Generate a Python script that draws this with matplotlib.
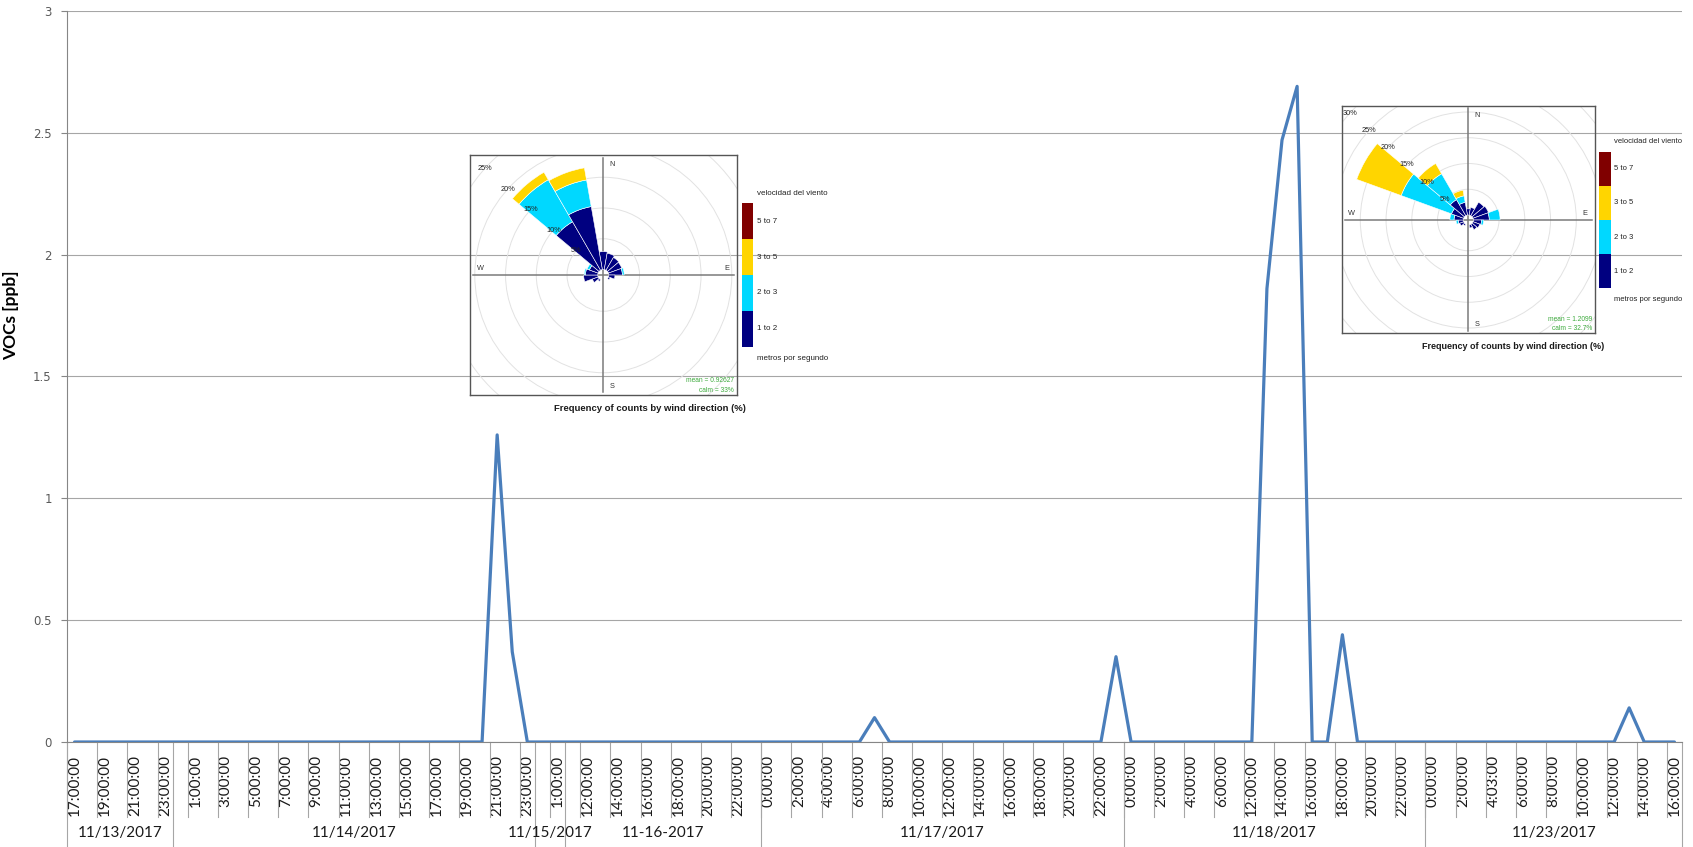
import numpy as np
import matplotlib
matplotlib.use("Agg")
import matplotlib.pyplot as plt
import matplotlib.transforms as mtransforms
from matplotlib.patches import Wedge, Circle, Rectangle
from matplotlib.ticker import FuncFormatter

# ---------------- hourly VOC series, grouped by day ----------------
day_labels = ["11/13/2017", "11/14/2017", "11/15/2017", "11-16-2017",
              "11/17/2017", "11/18/2017", "11/23/2017"]

hours_nov13 = ["17:00:00", "18:00:00", "19:00:00", "20:00:00", "21:00:00",
               "22:00:00", "23:00:00"]
hours_nov14 = ["0:00:00", "1:00:00", "2:00:00", "3:00:00", "4:00:00", "5:00:00",
               "6:00:00", "7:00:00", "8:00:00", "9:00:00", "10:00:00", "11:00:00",
               "12:00:00", "13:00:00", "14:00:00", "15:00:00", "16:00:00", "17:00:00",
               "18:00:00", "19:00:00", "20:00:00", "21:00:00", "22:00:00", "23:00:00"]
hours_nov15 = ["0:00:00", "1:00:00"]
hours_nov16 = ["11:00:00", "12:00:00", "13:00:00", "14:00:00", "15:00:00", "16:00:00",
               "17:00:00", "18:00:00", "19:00:00", "20:00:00", "21:00:00", "22:00:00",
               "23:00:00"]
hours_nov17 = ["0:00:00", "1:00:00", "2:00:00", "3:00:00", "4:00:00", "5:00:00",
               "6:00:00", "7:00:00", "8:00:00", "9:00:00", "10:00:00", "11:00:00",
               "12:00:00", "13:00:00", "14:00:00", "15:00:00", "16:00:00", "17:00:00",
               "18:00:00", "19:00:00", "20:00:00", "21:00:00", "22:00:00", "23:00:00"]
hours_nov18 = ["0:00:00", "1:00:00", "2:00:00", "3:00:00", "4:00:00", "5:00:00",
               "6:00:00", "7:00:00", "12:00:00", "13:00:00", "14:00:00", "15:00:00",
               "16:00:00", "17:00:00", "18:00:00", "19:00:00", "20:00:00", "21:00:00",
               "22:00:00", "23:00:00"]
hours_nov23 = ["0:00:00", "1:00:00", "2:00:00", "3:00:00", "4:03:00", "5:00:00",
               "6:00:00", "7:00:00", "8:00:00", "9:00:00", "10:00:00", "11:00:00",
               "12:00:00", "13:00:00", "14:00:00", "15:00:00", "16:00:00"]

vocs_nov13 = [0, 0, 0, 0, 0, 0, 0]
vocs_nov14 = [0, 0, 0, 0, 0, 0, 0, 0, 0, 0, 0, 0,
              0, 0, 0, 0, 0, 0, 0, 0, 0, 1.26, 0.37, 0]
vocs_nov15 = [0, 0]
vocs_nov16 = [0, 0, 0, 0, 0, 0, 0, 0, 0, 0, 0, 0, 0]
vocs_nov17 = [0, 0, 0, 0, 0, 0, 0, 0.10, 0, 0, 0, 0,
              0, 0, 0, 0, 0, 0, 0, 0, 0, 0, 0, 0.35]
vocs_nov18 = [0, 0, 0, 0, 0, 0, 0, 0, 0, 1.86, 2.47, 2.69,
              0, 0, 0.44, 0, 0, 0, 0, 0]
vocs_nov23 = [0, 0, 0, 0, 0, 0, 0, 0, 0, 0, 0, 0, 0, 0.14, 0, 0, 0]

# ---------------- wind roses ----------------
rose_dirs = [0, 20, 40, 60, 80, 100, 120, 140, 160, 180, 200, 220, 240, 260, 280, 300, 320, 340]
speed_classes = ["1 to 2", "2 to 3", "3 to 5", "5 to 7"]

rose1_1to2 = [2.9, 2.7, 2.4, 2.3, 2.2, 1.0, 0.3, 0, 0, 0, 0, 0.3, 1.0, 2.3, 2.0, 1.5, 9.1, 10.4]
rose1_2to3 = [0, 0, 0, 0, 0.3, 0, 0, 0, 0, 0, 0, 0, 0, 0, 0.2, 0.4, 7.9, 4.4]
rose1_3to5 = [0, 0, 0, 0, 0, 0, 0, 0, 0, 0, 0, 0, 0, 0, 0, 0, 1.4, 2.0]
rose1_5to7 = [0, 0, 0, 0, 0, 0, 0, 0, 0, 0, 0, 0, 0, 0, 0, 0, 0, 0]
rose1_mean = "0.92627"
rose1_calm = "33%"

rose2_1to2 = [1.2, 1.5, 3.0, 3.2, 3.1, 1.6, 1.4, 1.2, 0.6, 0, 0, 0.3, 0.8, 1.0, 1.8, 2.5, 3.6, 2.5]
rose2_2to3 = [0, 0, 0, 0, 2.1, 0.4, 0, 0, 0, 0, 0, 0, 0, 0.4, 0.8, 10.4, 5.8, 1.3]
rose2_3to5 = [0, 0, 0, 0, 0, 0, 0, 0, 0, 0, 0, 0, 0, 0, 0, 9.2, 2.3, 1.1]
rose2_5to7 = [0, 0, 0, 0, 0, 0, 0, 0, 0, 0, 0, 0, 0, 0, 0, 0, 0, 0]
rose2_mean = "1.2099"
rose2_calm = "32.7%"

# ---------------- styling ----------------
LINE_BLUE = "#4A7EBB"
GRID_GREY = "#A6A6A6"
AXIS_GREY = "#868686"
speed_colors = ["#000080", "#00D8FF", "#FFD500", "#800000"]
UI_FONT = ["Lato", "DejaVu Sans"]
ROSE_FONT = ["Liberation Sans", "DejaVu Sans"]

W, H, DPI = 1693, 847, 100
fig = plt.figure(figsize=(W / DPI, H / DPI), dpi=DPI)
fig.patch.set_facecolor("white")


def px_rect(x0, y0, x1, y1):
    """Figure-fraction rectangle from pixel corners (origin top-left)."""
    return [x0 / W, 1 - y1 / H, (x1 - x0) / W, (y1 - y0) / H]


# ---------------- main line chart ----------------
hours_by_day = [hours_nov13, hours_nov14, hours_nov15, hours_nov16,
                hours_nov17, hours_nov18, hours_nov23]
vocs_by_day = [vocs_nov13, vocs_nov14, vocs_nov15, vocs_nov16,
               vocs_nov17, vocs_nov18, vocs_nov23]
hour_labels = [h for day in hours_by_day for h in day]
vocs = [v for day in vocs_by_day for v in day]
n = len(vocs)
xpos = np.arange(n)

ax = fig.add_axes(px_rect(67, 10.8, 1682, 742))
ax.plot(xpos, vocs, color=LINE_BLUE, lw=2.3, solid_joinstyle="round",
        solid_capstyle="round", zorder=3)
ax.set_xlim(-0.5, n - 0.5)
ax.set_ylim(0, 3)

ax.set_yticks(np.arange(0, 3.01, 0.5))
ax.yaxis.set_major_formatter(FuncFormatter(lambda v, p: f"{v:g}"))
ax.grid(axis="y", color=GRID_GREY, lw=0.8)
ax.set_axisbelow(True)
for side in ("top", "right"):
    ax.spines[side].set_visible(False)
for side in ("left", "bottom"):
    ax.spines[side].set_color(AXIS_GREY)
    ax.spines[side].set_linewidth(0.8)
ax.tick_params(axis="y", length=4, width=0.8, color=AXIS_GREY, pad=7,
               labelsize=8.5, labelcolor="#595959")

shown = xpos[::2]
ax.set_xticks(shown)
ax.set_xticklabels([hour_labels[i] for i in shown], rotation=90,
                   fontsize=11, family=UI_FONT, color="#1a1a1a")
ax.tick_params(axis="x", length=0, pad=9.5)

ax.set_ylabel("VOCs [ppb]", fontsize=12.5, fontweight="bold", family=UI_FONT)
ax.yaxis.set_label_coords(-0.0297, 0.584)

# multi-level category axis: separators and day captions
trans = mtransforms.blended_transform_factory(ax.transData, ax.transAxes)
for i in shown:
    ax.plot([i - 0.5, i - 0.5], [0, -0.103], transform=trans, color=GRID_GREY,
            lw=0.8, clip_on=False)
edges = np.cumsum([0] + [len(d) for d in hours_by_day])
for e in edges:
    ax.plot([e - 0.5, e - 0.5], [0, -0.16], transform=trans, color=GRID_GREY,
            lw=0.8, clip_on=False)
for k, lab in enumerate(day_labels):
    mid = (edges[k] + edges[k + 1] - 1) / 2
    ax.text(mid, -0.124, lab, transform=trans, ha="center", va="center",
            fontsize=11, family=UI_FONT, color="#1a1a1a")

# ---------------- wind-rose insets ----------------
pix = fig.add_axes([0, 0, 1, 1], zorder=5)
pix.set_xlim(0, W)
pix.set_ylim(H, 0)
pix.axis("off")
pix.patch.set_visible(False)


def draw_rose(box, centre, px_per_pct, hole_px, ring_max, bands, mean_val, calm_val,
              legend_bar, title_x, size_scale):
    x0, y0, x1, y1 = box
    cx, cy = centre
    rax = fig.add_axes(px_rect(x0, y0, x1, y1), zorder=4)
    rax.set_xlim(-(cx - x0) / px_per_pct, (x1 - cx) / px_per_pct)
    rax.set_ylim(-(y1 - cy) / px_per_pct, (cy - y0) / px_per_pct)
    rax.patch.set_visible(False)
    rax.set_xticks([])
    rax.set_yticks([])
    for sp in rax.spines.values():
        sp.set_color("#555555")
        sp.set_linewidth(1.0)
    hole = hole_px / px_per_pct

    for pct in range(5, ring_max + 15, 5):
        rax.add_patch(Circle((0, 0), hole + pct, fill=False, ec="#E2E2E2",
                             lw=0.7, zorder=1))
    rax.axhline(0, xmin=0.012, xmax=0.988, color="#7A7A7A", lw=1.1, zorder=1.5)
    rax.axvline(0, ymin=0.012, ymax=0.988, color="#7A7A7A", lw=1.1, zorder=1.5)

    for k, d in enumerate(rose_dirs):
        inner = hole
        for band, col in zip(bands, speed_colors):
            v = band[k]
            if v <= 0:
                continue
            rax.add_patch(Wedge((0, 0), inner + v, 90 - d - 10, 90 - d + 10,
                                width=v, fc=col, ec="white", lw=0.4, zorder=2))
            inner += v

    ang = np.deg2rad(138)
    for pct in range(5, ring_max + 5, 5):
        r = hole + pct
        rax.text(r * np.cos(ang), r * np.sin(ang), f"{pct}%", fontsize=5.3,
                 ha="center", va="center", family=ROSE_FONT, color="#222222",
                 zorder=4)

    fs = 5.3
    pix.text(cx + 8.4, y0 + 10, "N", fontsize=fs, ha="center", va="center",
             family=ROSE_FONT, color="#333333")
    pix.text(cx + 8.4, y1 - 8.3, "S", fontsize=fs, ha="center", va="center",
             family=ROSE_FONT, color="#333333")
    pix.text(x0 + 10, cy - 6.7, "W", fontsize=fs, ha="center", va="center",
             family=ROSE_FONT, color="#333333")
    pix.text(x1 - 10.3, cy - 6.7, "E", fontsize=fs, ha="center", va="center",
             family=ROSE_FONT, color="#333333")
    pix.text(x1 - 3, y1 - 14, f"mean = {mean_val}", fontsize=4.8, ha="right",
             va="center", family=ROSE_FONT, color="#3DAA3D")
    pix.text(x1 - 3, y1 - 4.5, f"calm = {calm_val}", fontsize=4.8, ha="right",
             va="center", family=ROSE_FONT, color="#3DAA3D")

    lx0, ly0, lx1, ly1 = legend_bar
    seg = (ly1 - ly0) / len(speed_classes)
    tx = lx1 + 3.5
    for i, (lab, col) in enumerate(zip(speed_classes, speed_colors)):
        top = ly1 - (i + 1) * seg
        pix.add_patch(Rectangle((lx0, top), lx1 - lx0, seg, fc=col, ec="none"))
        pix.text(tx, top + seg / 2, lab, fontsize=5.8 * size_scale, ha="left",
                 va="center", family=ROSE_FONT, color="#222222")
    pix.text(tx, ly0 - 10, "velocidad del viento", fontsize=5.8 * size_scale,
             ha="left", va="center", family=ROSE_FONT, color="#222222")
    pix.text(tx, ly1 + 11.5, "metros por segundo", fontsize=5.8 * size_scale,
             ha="left", va="center", family=ROSE_FONT, color="#222222")

    pix.text(title_x, y1 + 13.5, "Frequency of counts by wind direction (%)",
             fontsize=6.8 * size_scale, fontweight="bold", ha="center", va="center",
             family=ROSE_FONT, color="#1a1a1a")


draw_rose(box=(470, 155, 737, 395), centre=(603.3, 275), px_per_pct=6.15,
          hole_px=5.5, ring_max=25,
          bands=[rose1_1to2, rose1_2to3, rose1_3to5, rose1_5to7],
          mean_val=rose1_mean, calm_val=rose1_calm,
          legend_bar=(741.7, 203.3, 753.3, 346.7), title_x=650, size_scale=1.0)

draw_rose(box=(1341.7, 105.7, 1595, 333.3), centre=(1468.3, 220), px_per_pct=5.15,
          hole_px=5.0, ring_max=30,
          bands=[rose2_1to2, rose2_2to3, rose2_3to5, rose2_5to7],
          mean_val=rose2_mean, calm_val=rose2_calm,
          legend_bar=(1599.3, 151.7, 1610.7, 288.3), title_x=1513, size_scale=0.95)

fig.savefig("out.png", dpi=DPI, facecolor="white")
